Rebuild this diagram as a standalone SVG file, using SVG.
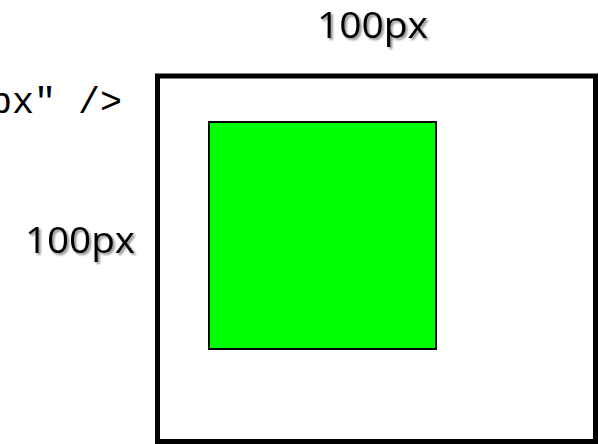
<svg xmlns="http://www.w3.org/2000/svg" width="598" height="444" viewBox="0 0 598 444">
<style>
.lbl{font-family:"Open Sans","Liberation Sans",sans-serif;font-size:37px;fill:#000;filter:url(#sh)}
.code{font-family:"Liberation Mono",monospace;font-size:36.7px;fill:#000}
</style>
<defs>
<filter id="sh" x="-10%" y="-20%" width="130%" height="160%">
<feDropShadow dx="2" dy="2" stdDeviation="1.2" flood-color="#000" flood-opacity="0.45"/>
</filter>
</defs>
<rect width="598" height="444" fill="#fff"/>
<g id="code"><text class="code" x="-10" y="113">px" /&gt;</text></g>
<g id="outer"><rect x="157.5" y="76" width="438" height="365.5" fill="#fff" stroke="#000" stroke-width="5"/></g>
<g id="inner"><rect x="209" y="122" width="227" height="227" fill="#00ff00" stroke="#000" stroke-width="2"/></g>
<g id="labels">
<text class="lbl" x="372.5" y="38" text-anchor="middle" textLength="111" lengthAdjust="spacingAndGlyphs">100px</text>
<text class="lbl" x="80" y="253" text-anchor="middle" textLength="110" lengthAdjust="spacingAndGlyphs">100px</text>
</g>
</svg>
